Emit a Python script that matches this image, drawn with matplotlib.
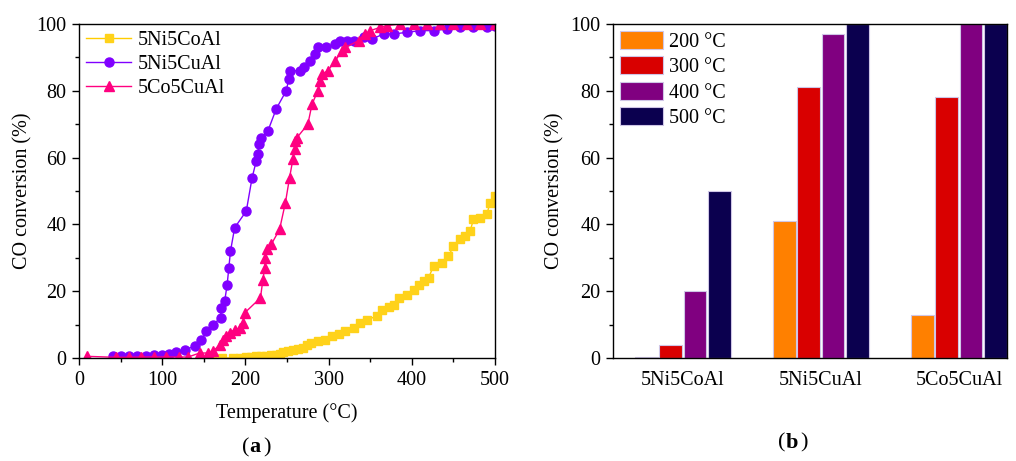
import numpy as np
import matplotlib
matplotlib.use('Agg')
import matplotlib.pyplot as plt
from matplotlib.ticker import MultipleLocator

plt.rcParams['font.family'] = ['Liberation Serif', 'DejaVu Serif']
plt.rcParams['font.size'] = 14.5

# ---------------- (a) light-off curves ----------------
t_nico = [160, 172, 185, 193, 201, 207, 213, 219, 225, 231, 237, 241, 245, 251, 257, 263, 269, 274,
          279, 287, 296, 304, 312, 320, 330, 338, 346, 358, 364, 372, 378, 384, 394, 402, 408,
          414, 420, 426, 436, 444, 450, 458, 464, 470, 474, 482, 490, 494, 500]
v_nico = [0.0, 0.0, 0.0, 0.1, 0.2, 0.3, 0.5, 0.6, 0.7, 0.8, 1.0, 1.3, 1.7, 2.1, 2.5, 2.7, 3.0, 3.8,
          4.5, 5.0, 5.5, 6.5, 7.3, 8.0, 9.0, 10.5, 11.5, 12.5, 14.5, 15.3, 16.0, 18.0, 19.0, 20.5, 22.0,
          23.0, 24.0, 27.5, 28.5, 30.5, 33.5, 35.5, 36.5, 38.0, 41.5, 42.0, 43.0, 46.5, 48.5]

t_nicu = [41, 50, 60, 70, 80, 90, 100, 108, 116, 127, 139, 147, 153, 161, 170, 171, 175, 178, 180,
          182, 187, 201, 208, 213, 215, 216, 219, 227, 237, 249, 252, 254, 265, 270, 277, 283,
          287, 297, 308, 314, 322, 330, 342, 352, 366, 378, 394, 410, 426, 442, 458, 474, 490, 500]
v_nicu = [0.5, 0.5, 0.5, 0.6, 0.7, 0.8, 1.0, 1.2, 1.7, 2.5, 3.5, 5.3, 8.0, 10.0, 12.0, 15.0, 17.0, 22.0, 27.0,
          32.0, 39.0, 44.0, 54.0, 59.0, 61.0, 64.0, 66.0, 68.0, 74.6, 80.0, 83.5, 86.0, 86.0, 87.0, 89.0, 91.0,
          93.0, 93.0, 94.0, 95.0, 95.0, 95.0, 96.0, 95.5, 97.0, 97.0, 97.5, 98.0, 98.0, 98.5, 99.0, 99.0, 99.0, 99.5]

t_cocu = [10, 45, 60, 75, 90, 105, 120, 131, 145, 155, 161, 169, 173, 177, 181, 187, 193, 197, 199,
          218, 221, 223, 224, 226, 231, 241, 248, 253, 257, 259, 260, 262, 275, 280, 287, 290,
          292, 299, 308, 316, 320, 336, 344, 350, 362, 370, 386, 402, 418, 434, 450, 466, 482, 500]
v_cocu = [0.5, 0.2, 0.2, 0.3, 0.3, 0.3, 0.3, 0.3, 1.5, 1.5, 2.0, 4.0, 5.5, 6.5, 7.5, 8.5, 9.0, 10.5, 13.5,
          18.0, 23.5, 27.0, 30.0, 32.5, 34.0, 38.5, 46.5, 54.0, 59.5, 62.6, 65.0, 66.0, 70.0, 76.0, 80.0, 83.0,
          85.0, 86.0, 89.0, 92.0, 93.0, 95.0, 97.0, 98.0, 99.0, 99.5, 100.0, 100.0, 100.0, 100.0, 100.0, 100.0, 100.0, 100.0]

# ---------------- (b) bars ----------------
catalysts = ['5Ni5CoAl', '5Ni5CuAl', '5Co5CuAl']
temps = ['200 °C', '300 °C', '400 °C', '500 °C']
bar_vals = [
    [0.3, 41, 13],    # 200 °C
    [4, 81, 78],      # 300 °C
    [20, 97, 100],    # 400 °C
    [50, 100, 100],   # 500 °C
]
bar_colors = ['#ff8000', '#d90000', '#800080', '#0b004f']

fig = plt.figure(figsize=(10.16, 4.61), dpi=100)
ax1 = fig.add_axes([0.0778, 0.2234, 0.4095, 0.7246])
ax2 = fig.add_axes([0.6033, 0.2234, 0.3878, 0.7246])

ax1.plot(t_nico, v_nico, '-', color='#ffcc00', lw=1.0, marker='s', ms=5.5,
         mfc='#ffd21a', mec='#ffd21a', label='5Ni5CoAl')
ax1.plot(t_nicu, v_nicu, '-', color='#8000ff', lw=1.0, marker='o', ms=6.5,
         mfc='#8000ff', mec='#8000ff', label='5Ni5CuAl')
ax1.plot(t_cocu, v_cocu, '-', color='#ff0080', lw=1.0, marker='^', ms=6.5,
         mfc='#ff0080', mec='#ff0080', label='5Co5CuAl')
ax1.set_xlim(0, 500)
ax1.set_ylim(0, 100)
ax1.xaxis.set_major_locator(MultipleLocator(100))
ax1.xaxis.set_minor_locator(MultipleLocator(50))
ax1.yaxis.set_major_locator(MultipleLocator(20))
ax1.yaxis.set_minor_locator(MultipleLocator(10))
ax1.set_xlabel('Temperature (°C)', labelpad=10)
ax1.set_ylabel('CO conversion (%)', labelpad=3)
ax1.legend(loc='upper left', frameon=False, handlelength=2.25, borderaxespad=0.15,
           borderpad=0.2, labelspacing=0.25, handletextpad=0.3)

x = np.arange(len(catalysts))
w = 0.164
pitch = 0.176
for i, (lab, vals) in enumerate(zip(temps, bar_vals)):
    ax2.bar(x + (i - 1.5) * pitch, vals, width=w, color=bar_colors[i],
            edgecolor='#cfc6e6', linewidth=0.8, label=lab)
ax2.set_xlim(-0.507, 2.348)
ax2.set_ylim(0, 100)
ax2.set_xticks(x)
ax2.set_xticklabels(catalysts)
ax2.yaxis.set_major_locator(MultipleLocator(20))
ax2.yaxis.set_minor_locator(MultipleLocator(10))
ax2.set_ylabel('CO conversion (%)', labelpad=4)
ax2.legend(loc='upper left', frameon=False, handlelength=2.15, handleheight=1.0,
           borderaxespad=0.1, borderpad=0.25, labelspacing=0.22, handletextpad=0.3)

for ax in (ax1, ax2):
    ax.tick_params(which='both', direction='out', width=1.0, pad=4)
    ax.tick_params(which='major', length=5)
    ax.tick_params(which='minor', length=3)
    for s in ax.spines.values():
        s.set_linewidth(1.0)
ax2.tick_params(axis='x', which='both', length=0, pad=9)

# panel letters: "(" and ")" regular, letter bold
fig.text(0.245, 0.008, '(', ha='right', va='bottom', fontsize=16)
fig.text(0.245, 0.008, 'a', ha='left', va='bottom', fontsize=16, fontweight='bold')
fig.text(0.259, 0.008, ')', ha='left', va='bottom', fontsize=16)
fig.text(0.773, 0.018, '(', ha='right', va='bottom', fontsize=16)
fig.text(0.773, 0.018, 'b', ha='left', va='bottom', fontsize=16, fontweight='bold')
fig.text(0.788, 0.018, ')', ha='left', va='bottom', fontsize=16)

fig.savefig('out.png', dpi=100)
